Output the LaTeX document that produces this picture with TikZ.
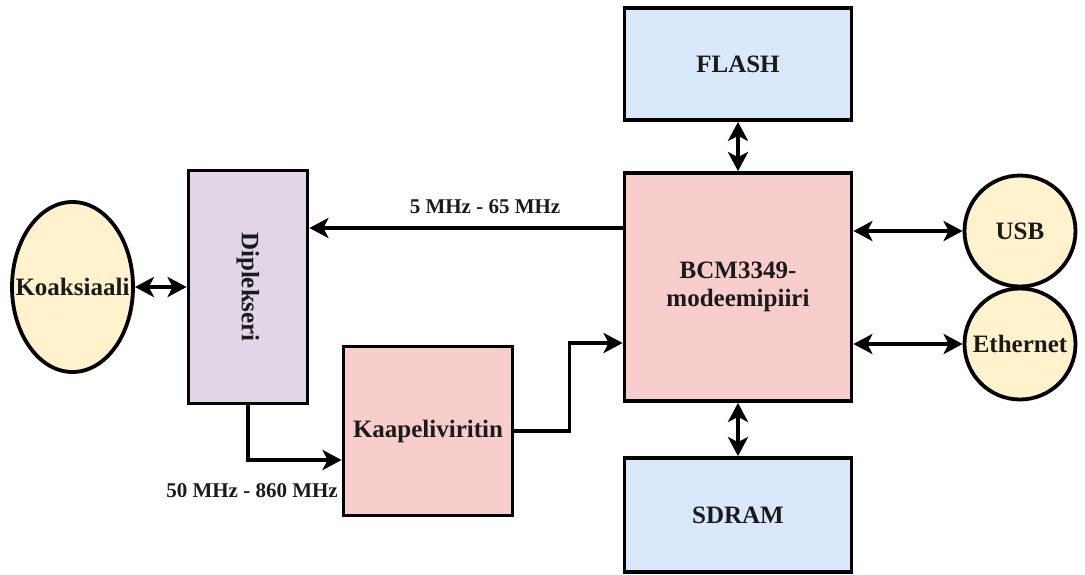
\documentclass[tikz,border=0pt]{standalone}
\usepackage{fontspec}
\setmainfont{Liberation Serif}[BoldFont={Liberation Serif Bold}]
\usetikzlibrary{shapes.geometric,arrows.meta}
\definecolor{blueF}{HTML}{DAE8FC}
\definecolor{redF}{HTML}{F8CECC}
\definecolor{purpF}{HTML}{E1D5E7}
\definecolor{yelF}{HTML}{FFF2CC}
\definecolor{txt}{HTML}{1A1A1A}
\tikzset{
  blk/.style={draw=black, line width=3.8pt, inner sep=0pt, text=txt, font=\fontsize{25}{28}\selectfont\bfseries, align=center},
  oval/.style={draw=black, line width=3.8pt, ellipse, inner sep=0pt},
  otext/.style={text=txt, font=\fontsize{25}{28}\selectfont\bfseries, inner sep=0pt},
  lbl/.style={text=txt, font=\fontsize{21}{24}\selectfont\bfseries, inner sep=0pt},
  arr/.style={line width=3.6pt, -{Stealth[length=19pt,width=20pt,inset=5pt]}},
  darr/.style={line width=3.6pt, {Stealth[length=19pt,width=20pt,inset=5pt]}-{Stealth[length=19pt,width=20pt,inset=5pt]}}
}
\begin{document}
\begin{tikzpicture}[x=1pt,y=-1pt]
\useasboundingbox (0,0) rectangle (1085,574);
\node[blk, fill=blueF, minimum width=227pt, minimum height=112pt] (flash) at (738,64) {FLASH};
\node[blk, fill=redF, minimum width=227pt, minimum height=228pt] (bcm) at (738,287) {BCM3349-\\modeemipiiri};
\node[blk, fill=blueF, minimum width=227pt, minimum height=114pt] (sdram) at (738,515) {SDRAM};
\node[blk, fill=purpF, minimum width=119pt, minimum height=233pt] (dipl) at (248,287) {};
\node[otext, rotate=-90] (diplt) at (dipl) {Diplekseri};
\node[blk, fill=redF, minimum width=169pt, minimum height=169pt] (kaap) at (428,431) {Kaapeliviritin};
\node[oval, fill=yelF, minimum width=121pt, minimum height=170pt] (koax) at (72.5,287) {};
\node[otext] (koaxt) at (koax) {Koaksiaali};
\node[oval, fill=yelF, minimum width=111pt, minimum height=111pt] (usb) at (1020,231) {};
\node[otext] (usbt) at (usb) {USB};
\node[oval, fill=yelF, minimum width=111pt, minimum height=111pt] (eth) at (1020,344) {};
\node[otext] (etht) at (eth) {Ethernet};

\coordinate (b1) at ([yshift=59pt]bcm.west);
\coordinate (b2) at ([yshift=-56pt]bcm.west);
\coordinate (k1) at ([yshift=-29pt]kaap.west);
\coordinate (u1) at ([yshift=56pt]bcm.east);
\coordinate (e1) at ([yshift=-57pt]bcm.east);

\draw[darr] (koax.east) -- (dipl.west);
\draw[arr] (b1) -- (dipl.east |- b1);
\node[lbl] (l1) at (485,207) {5 MHz - 65 MHz};
\draw[arr] (dipl.south) |- (k1);
\node[lbl] (l2) at (252,491) {50 MHz - 860 MHz};
\draw[arr] (kaap.east) -- ++(55,0) |- (b2);
\draw[darr] (u1) -- (usb.west);
\draw[darr] (e1) -- (eth.west);
\draw[darr] (flash.south) -- (bcm.north);
\draw[darr] (bcm.south) -- (sdram.north);
\end{tikzpicture}
\end{document}
